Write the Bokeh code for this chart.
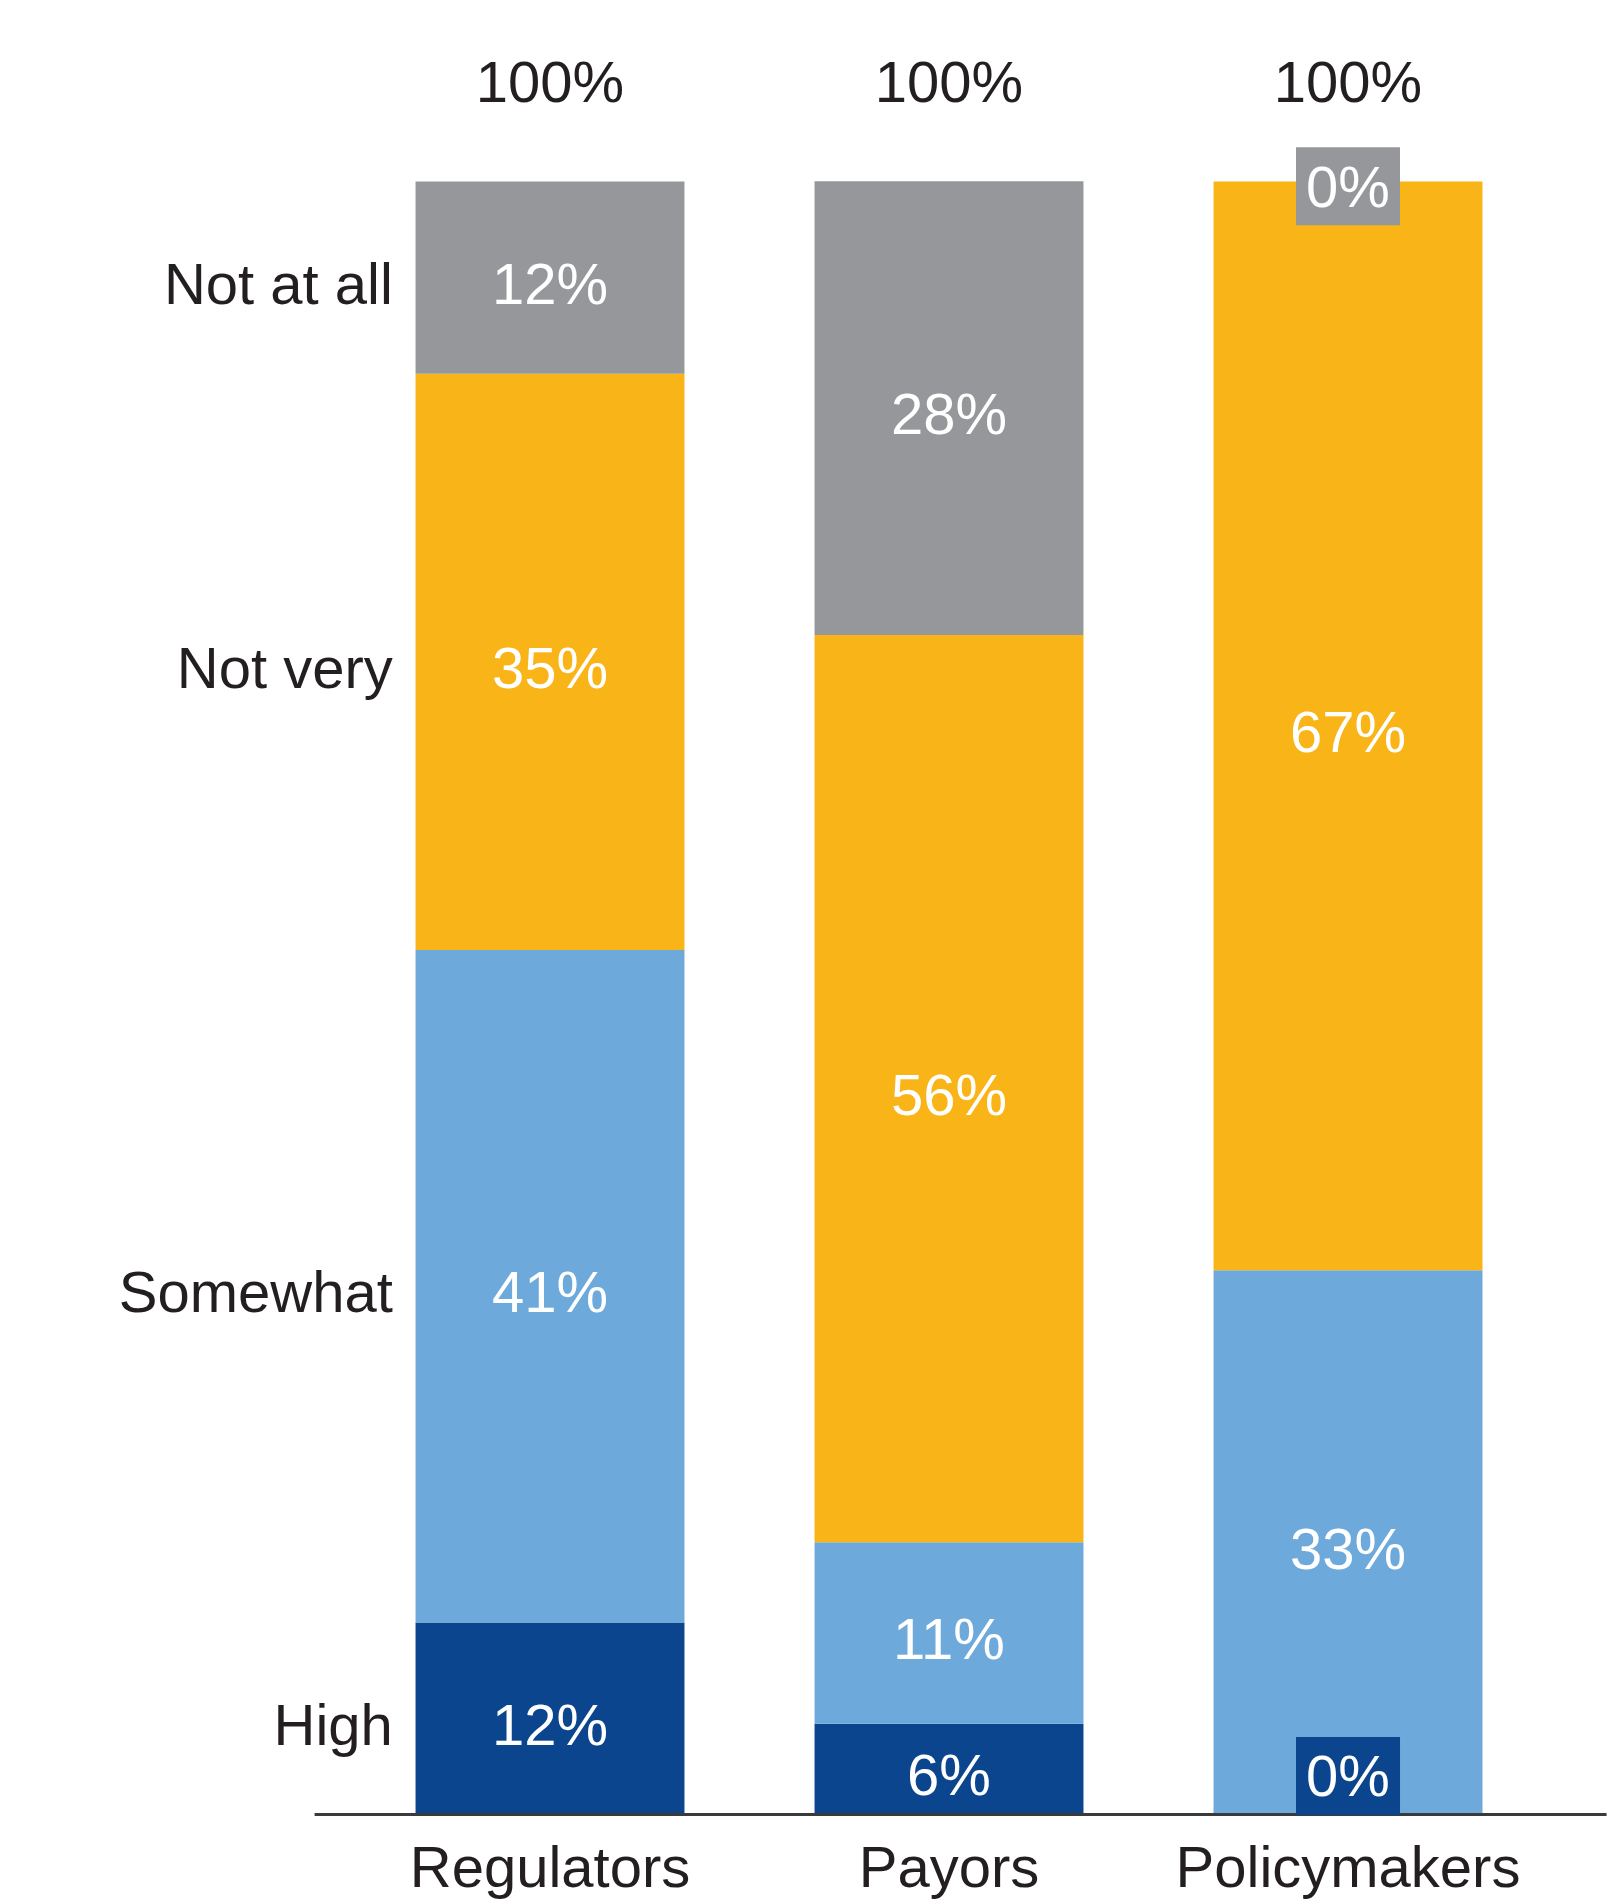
from bokeh.plotting import figure
from bokeh.models import ColumnDataSource, Range1d
from bokeh.core.properties import value
from bokeh.embed import file_html
from bokeh.resources import INLINE

# ---- data ----
groups = ["Regulators", "Payors", "Policymakers"]
levels = ["High", "Somewhat", "Not very", "Not at all"]
high = [11.76, 5.56, 0.0]
somewhat = [41.18, 11.11, 33.33]
not_very = [35.29, 55.56, 66.67]
not_at_all = [11.76, 27.78, 0.0]

keys = ["high", "somewhat", "not_very", "not_at_all"]
series = [high, somewhat, not_very, not_at_all]
colors = ["#0A458E", "#6DA9DB", "#F9B418", "#96979B"]

FONT = value("Liberation Sans")
DARK = "#231F20"
FS = "58px"

xs = list(range(len(groups)))
data = {"x": xs}
for k, s in zip(keys, series):
    data[k] = s
source = ColumnDataSource(data)

p = figure(width=1615, height=1902, output_backend="svg", toolbar_location=None,
           x_range=Range1d(-1.3772, 2.6704), y_range=Range1d(-5.389, 111.08),
           min_border=0, min_border_left=0, min_border_right=0,
           min_border_top=0, min_border_bottom=0)
p.xaxis.visible = False
p.yaxis.visible = False
p.grid.visible = False
p.outline_line_color = None
p.background_fill_color = "white"
p.border_fill_color = "white"

BAR_W = 0.674
p.vbar_stack(keys, x="x", width=BAR_W, color=colors, line_color=None, source=source)

# baseline axis line
p.segment(x0=[-0.59], x1=[2.648], y0=[0], y1=[0], line_color="#3A3A3A", line_width=3)

# segment labels
MID_SHIFT = -0.35
lab_x, lab_y, lab_t = [], [], []
zero_x, zero_y, zero_c = [], [], []
for i in xs:
    cum = 0.0
    for j, s in enumerate(series):
        v = s[i]
        if v > 0:
            lab_x.append(i)
            lab_y.append(cum + v / 2 + MID_SHIFT)
            lab_t.append(f"{round(v)}%")
        else:
            # zero-size segment: label sits on a small box
            yy = cum + 2.36 if cum == 0 else cum - 0.3
            zero_x.append(i)
            zero_y.append(yy)
            zero_c.append(colors[j])
            lab_x.append(i)
            lab_y.append(yy)
            lab_t.append(f"{round(v)}%")
        cum += v

p.rect(x=zero_x, y=zero_y, width=104, height=78, width_units="screen",
       height_units="screen", fill_color=zero_c, line_color=None)

p.text(x=lab_x, y=lab_y, text=lab_t, text_font=FONT, text_font_size=FS,
       text_color="white", text_align="center", text_baseline="middle")

# totals above bars
totals = [sum(s[i] for s in series) for i in xs]
p.text(x=xs, y=[t + 6.1 for t in totals], text=[f"{round(t)}%" for t in totals],
       text_font=FONT, text_font_size=FS, text_color=DARK,
       text_align="center", text_baseline="alphabetic")

# category labels below
p.text(x=xs, y=[-3.2] * len(xs), text=groups, text_font=FONT, text_font_size=FS,
       text_color=DARK, text_align="center", text_baseline="alphabetic")

# level labels at left, aligned with first bar's segments
cum = 0.0
ly = []
for s in series:
    ly.append(cum + s[0] / 2 + MID_SHIFT)
    cum += s[0]
p.text(x=[-0.394] * len(levels), y=ly, text=levels, text_font=FONT,
       text_font_size=FS, text_color=DARK, text_align="right",
       text_baseline="middle")

open("out.html", "w").write(file_html(p, INLINE))
